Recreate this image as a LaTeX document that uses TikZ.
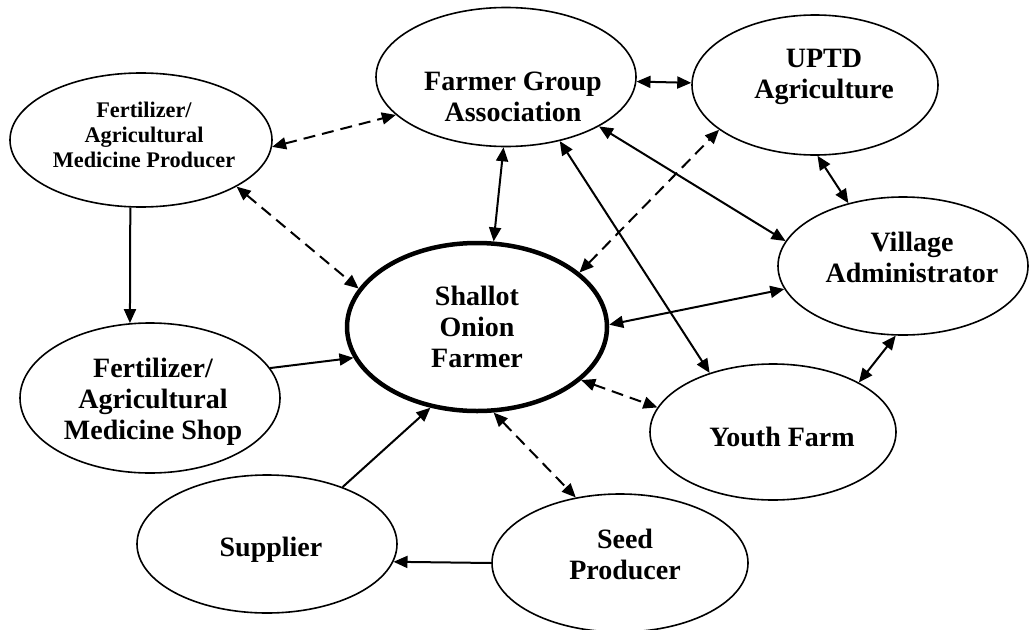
\documentclass[tikz,border=0pt]{standalone}
\usepackage{fontspec}
\setmainfont{Liberation Serif}
\usetikzlibrary{shapes.geometric,arrows.meta}
\begin{document}
\begin{tikzpicture}[x=1pt,y=-1pt,
  ell/.style={ellipse, draw, line width=1.6pt, inner sep=0pt},
  conn/.style={line width=2pt, -{Triangle[length=14pt,width=12pt]}},
  both/.style={line width=2pt, {Triangle[length=14pt,width=12pt]}-{Triangle[length=14pt,width=12pt]}},
  dsh/.style={dash pattern=on 12pt off 7pt},
  big/.style={font=\bfseries\fontsize{28}{31}\selectfont, align=center, inner sep=0pt},
  small/.style={font=\bfseries\fontsize{22.3}{25}\selectfont, align=center, inner sep=0pt},
]
\useasboundingbox (0,0) rectangle (1030,629);

\node[ell, minimum width=260pt, minimum height=139pt,
  label={[big, xshift=7pt, yshift=-20pt]center:Farmer Group\\Association}] (FG) at (506,77) {};
\node[ell, minimum width=246pt, minimum height=140pt,
  label={[big, xshift=9pt, yshift=8pt]center:UPTD\\Agriculture}] (UPTD) at (815,85) {};
\node[ell, minimum width=262pt, minimum height=134pt,
  label={[small, xshift=3pt, yshift=5pt]center:Fertilizer/\\Agricultural\\Medicine Producer}] (FP) at (141,140) {};
\node[ell, line width=4.5pt, minimum width=260pt, minimum height=168pt,
  label={[big]center:Shallot\\Onion\\Farmer}] (Shallot) at (477,327) {};
\node[ell, minimum width=250pt, minimum height=138pt,
  label={[big, xshift=9pt, yshift=9pt]center:Village\\Administrator}] (Village) at (903,266) {};
\node[ell, minimum width=260pt, minimum height=150pt,
  label={[big, xshift=3pt, yshift=-4pt]center:Fertilizer/\\Agricultural\\Medicine Shop}] (Shop) at (150,398) {};
\node[ell, minimum width=246pt, minimum height=136pt,
  label={[big, xshift=9pt, yshift=-5pt]center:Youth Farm}] (Youth) at (773,432) {};
\node[ell, minimum width=260pt, minimum height=138pt,
  label={[big, xshift=4pt, yshift=-6pt]center:Supplier}] (Supplier) at (267,544) {};
\node[ell, minimum width=256pt, minimum height=138pt,
  label={[big, xshift=5pt, yshift=9pt]center:Seed\\Producer}] (Seed) at (620,563) {};

\draw[both] (FG.-2) -- (UPTD.179);
\draw[both] (FG.-92) -- (Shallot.79);
\draw[both] (FG.-50) -- (Youth.137);
\draw[both] (FG.-28) -- (Village.168);
\draw[both,dsh] (FP.-3.5) -- (FG.-161);
\draw[both,dsh] (FP.-26) -- (Shallot.162);
\draw[conn] (FP.-99) -- (Shop.105);
\draw[conn] (Shop.14) -- (Shallot.-166);
\draw[conn] (Supplier.37) -- (Shallot.-120);
\draw[both,dsh] (Shallot.-79.5) -- (Seed.124);
\draw[both,dsh] (Shallot.-27) -- (Youth.168);
\draw[both,dsh] (Shallot.28) -- (UPTD.-155);
\draw[both] (Shallot.1) -- (Village.-169);
\draw[both] (UPTD.-88) -- (Village.131);
\draw[both] (Village.-96) -- (Youth.30);
\draw[conn] (Seed.180) -- (Supplier.-8);
\end{tikzpicture}
\end{document}
